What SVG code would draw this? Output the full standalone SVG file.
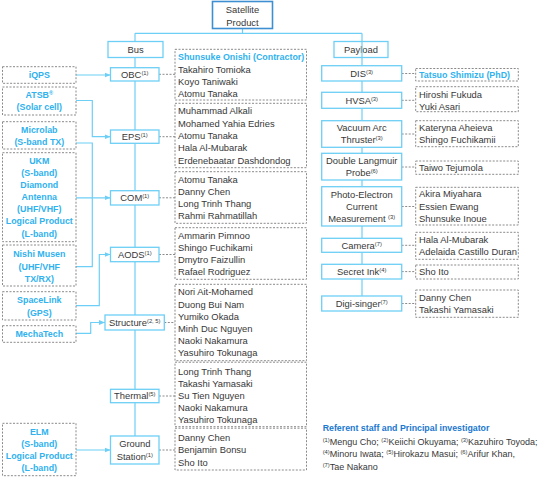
<svg xmlns="http://www.w3.org/2000/svg" width="549" height="480" viewBox="0 0 549 480">
<style>
text{font-family:"Liberation Sans",Arial,sans-serif;fill:#383838;font-size:9.4px}
.c{text-anchor:middle}
.co{fill:#2fb2ee;font-weight:bold;font-size:8.9px}
.sup{font-size:5.8px}
.nb{fill:#fff;stroke:#6dcff6;stroke-width:1.3}
.db{fill:none;stroke:#8a8a8a;stroke-width:1;stroke-dasharray:2,1.5}
.ln{fill:none;stroke:#6dcff6;stroke-width:1.2}
.dl{fill:none;stroke:#8a8a8a;stroke-width:1;stroke-dasharray:2,1.5}
.hd{fill:#1a78d0;font-weight:bold;font-size:8.8px}
.fn{font-size:9px}
</style>
<defs>
<marker id="arr" viewBox="0 0 10 10" refX="10" refY="5" markerWidth="6" markerHeight="6" markerUnits="userSpaceOnUse" orient="auto"><path d="M0,1 L10,5 L0,9 z" fill="#6dcff6"/></marker>
</defs>

<g id="payload"><rect class="nb" x="334" y="41.5" width="54" height="16"/><text class="c" x="361" y="52.8">Payload</text></g>

<g id="connectors">
<path class="ln" d="M242.5,28.5 V33.3 M135,33.3 H362 M135,33.3 V436 M362,33.3 V296"/>
<path class="ln" d="M76,75 H110.5" marker-end="url(#arr)"/>
<path class="ln" d="M76,100.5 H92.3 V136.7 H110.5" marker-end="url(#arr)"/>
<path class="ln" d="M76,143 H92.3 V266.7 H76"/>
<path class="ln" d="M76,197.8 H110.5" marker-end="url(#arr)"/>
<path class="ln" d="M76,305.7 H99.3 V254.5 H110.5" marker-end="url(#arr)"/>
<path class="ln" d="M76,333.3 H90.7 V322.5 H105" marker-end="url(#arr)"/>
<path class="ln" d="M76,450 H110.5" marker-end="url(#arr)"/>
<path class="dl" d="M159,74.3 H175 M159,136.7 H175 M159,197.8 H175 M159,254.5 H175 M164.3,322.5 H175 M159,396 H175 M159,450 H175"/>
<path class="dl" d="M401.7,73.5 H415.7 M401.7,100.3 H415.7 M401.7,134 H415.7 M401.7,167 H415.7 M401.7,206.5 H415.7 M401.7,245.3 H415.7 M401.7,271.6 H415.7 M401.7,303.5 H415.7"/>
</g>

<g id="satellite"><rect x="212.5" y="1.5" width="60" height="27" fill="#fff" stroke="#3d8fd1" stroke-width="1.6"/><text class="c" x="242.5" y="13.3">Satellite</text><text class="c" x="242.5" y="25.6">Product</text></g>
<g id="bus"><rect class="nb" x="108" y="41.5" width="55" height="16"/><text class="c" x="135.5" y="52.8">Bus</text></g>

<g id="obc"><rect class="nb" x="110.5" y="67.7" width="48.5" height="13.3"/><text class="c" x="134.8" y="77.6">OBC<tspan class="sup" dy="-3">(1)</tspan></text></g>
<g id="eps"><rect class="nb" x="110.5" y="130" width="48.5" height="13.3"/><text class="c" x="134.8" y="140">EPS<tspan class="sup" dy="-3">(1)</tspan></text></g>
<g id="com"><rect class="nb" x="110.5" y="190.7" width="48.5" height="14.3"/><text class="c" x="134.8" y="201.1">COM<tspan class="sup" dy="-3">(1)</tspan></text></g>
<g id="aods"><rect class="nb" x="110.5" y="247.3" width="48.5" height="14.4"/><text class="c" x="134.8" y="257.8">AODS<tspan class="sup" dy="-3">(1)</tspan></text></g>
<g id="structure"><rect class="nb" x="105" y="315" width="59.3" height="15"/><text class="c" x="134.7" y="325.8">Structure<tspan class="sup" dy="-3">(2, 5)</tspan></text></g>
<g id="thermal"><rect class="nb" x="110.5" y="389.3" width="48.5" height="13.4"/><text class="c" x="134.8" y="399.3">Thermal<tspan class="sup" dy="-3">(5)</tspan></text></g>
<g id="ground"><rect class="nb" x="110.5" y="436" width="48.5" height="28"/><text class="c" x="134.8" y="447.3">Ground</text><text class="c" x="134.8" y="459.5">Station<tspan class="sup" dy="-3">(1)</tspan></text></g>

<g id="iqps"><rect class="db" x="2.5" y="66.7" width="73.5" height="16.6"/><text class="c co" x="39.3" y="78.2">iQPS</text></g>
<g id="atsb"><rect class="db" x="2.5" y="87" width="73.5" height="28"/><text class="c co" x="39.3" y="98.2">ATSB<tspan font-size="5.5px" dy="-3">®</tspan></text><text class="c co" x="39.3" y="110.3">(Solar cell)</text></g>
<g id="microlab"><rect class="db" x="2.5" y="121.7" width="73.5" height="27.3"/><text class="c co" x="39.3" y="132.7">Microlab</text><text class="c co" x="39.3" y="145.2">(S-band TX)</text></g>
<g id="ukm"><rect class="db" x="2.5" y="152.7" width="73.5" height="89"/>
<text class="c co" x="39.3" y="163.9">UKM</text><text class="c co" x="39.3" y="176">(S-band)</text><text class="c co" x="39.3" y="188.1">Diamond</text><text class="c co" x="39.3" y="200.2">Antenna</text><text class="c co" x="39.3" y="212.3">(UHF/VHF)</text><text class="c co" x="39.3" y="224.4">Logical Product</text><text class="c co" x="39.3" y="236.5">(L-band)</text></g>
<g id="nishi"><rect class="db" x="2.5" y="245" width="73.5" height="41"/><text class="c co" x="39.3" y="257.2">Nishi Musen</text><text class="c co" x="39.3" y="269.5">(UHF/VHF</text><text class="c co" x="39.3" y="281.8">TX/RX)</text></g>
<g id="spacelink"><rect class="db" x="2.5" y="291.7" width="73.5" height="28.3"/><text class="c co" x="39.3" y="303.2">SpaceLink</text><text class="c co" x="39.3" y="315.5">(GPS)</text></g>
<g id="mechatech"><rect class="db" x="2.5" y="325.7" width="73.5" height="16.6"/><text class="c co" x="39.3" y="337.2">MechaTech</text></g>
<g id="elm"><rect class="db" x="2.5" y="423.3" width="73.5" height="52.4"/><text class="c co" x="39.3" y="434.6">ELM</text><text class="c co" x="39.3" y="446.8">(S-band)</text><text class="c co" x="39.3" y="459">Logical Product</text><text class="c co" x="39.3" y="471.2">(L-band)</text></g>

<g id="obc-team"><rect class="db" x="175" y="49.3" width="131.5" height="50.7"/><text class="co" x="178" y="60.2">Shunsuke Onishi (Contractor)</text><text x="178" y="72.5">Takahiro Tomioka</text><text x="178" y="84.6">Koyo Taniwaki</text><text x="178" y="96.6">Atomu Tanaka</text></g>
<g id="eps-team"><rect class="db" x="175" y="103.3" width="131.5" height="64.4"/><text x="178" y="114.1">Muhammad Alkali</text><text x="178" y="126.6">Mohamed Yahia Edries</text><text x="178" y="139">Atomu Tanaka</text><text x="178" y="151.3">Hala Al-Mubarak</text><text x="178" y="163.7">Erdenebaatar Dashdondog</text></g>
<g id="com-team"><rect class="db" x="175" y="171.7" width="131.5" height="51.6"/><text x="178" y="182.6">Atomu Tanaka</text><text x="178" y="195">Danny Chen</text><text x="178" y="207">Long Trinh Thang</text><text x="178" y="219">Rahmi Rahmatillah</text></g>
<g id="aods-team"><rect class="db" x="175" y="227.7" width="131.5" height="51.6"/><text x="178" y="239">Ammarin Pimnoo</text><text x="178" y="251.3">Shingo Fuchikami</text><text x="178" y="263.3">Dmytro Faizullin</text><text x="178" y="275.3">Rafael Rodriguez</text></g>
<g id="structure-team"><rect class="db" x="175" y="284.3" width="131.5" height="76.4"/><text x="178" y="295">Nori Ait-Mohamed</text><text x="178" y="307.6">Duong Bui Nam</text><text x="178" y="319.6">Yumiko Okada</text><text x="178" y="331.6">Minh Duc Nguyen</text><text x="178" y="344">Naoki Nakamura</text><text x="178" y="356">Yasuhiro Tokunaga</text></g>
<g id="thermal-team"><rect class="db" x="175" y="362.2" width="131.5" height="64.5"/><text x="178" y="375">Long Trinh Thang</text><text x="178" y="387">Takashi Yamasaki</text><text x="178" y="399.3">Su Tien Nguyen</text><text x="178" y="411.3">Naoki Nakamura</text><text x="178" y="423.3">Yasuhiro Tokunaga</text></g>
<g id="ground-team"><rect class="db" x="175" y="428.2" width="131.5" height="41.8"/><text x="178" y="441">Danny Chen</text><text x="178" y="453.3">Benjamin Bonsu</text><text x="178" y="466">Sho Ito</text></g>

<g id="dis"><rect class="nb" x="321.7" y="65.7" width="80" height="15.3"/><text class="c" x="361.7" y="76.8">DIS<tspan class="sup" dy="-3">(3)</tspan></text></g>
<g id="hvsa"><rect class="nb" x="321.7" y="92.3" width="80" height="16"/><text class="c" x="361.7" y="103.6">HVSA<tspan class="sup" dy="-3">(3)</tspan></text></g>
<g id="vat"><rect class="nb" x="321.7" y="120.7" width="80" height="26.6"/><text class="c" x="361.7" y="131.3">Vacuum Arc</text><text class="c" x="361.7" y="143.3">Thruster<tspan class="sup" dy="-3">(3)</tspan></text></g>
<g id="dlp"><rect class="nb" x="321.7" y="153.3" width="80" height="26.7"/><text class="c" x="361.7" y="164.3">Double Langmuir</text><text class="c" x="361.7" y="176.3">Probe<tspan class="sup" dy="-3">(6)</tspan></text></g>
<g id="pecm"><rect class="nb" x="321.7" y="186.7" width="80" height="39.3"/><text class="c" x="361.7" y="197.6">Photo-Electron</text><text class="c" x="361.7" y="209.9">Current</text><text class="c" x="361.7" y="222.3">Measurement <tspan class="sup" dy="-3">(3)</tspan></text></g>
<g id="camera"><rect class="nb" x="321.7" y="238.3" width="80" height="14"/><text class="c" x="361.7" y="248.6">Camera<tspan class="sup" dy="-3">(7)</tspan></text></g>
<g id="secretink"><rect class="nb" x="321.7" y="264.3" width="80" height="14.7"/><text class="c" x="361.7" y="274.9">Secret Ink<tspan class="sup" dy="-3">(4)</tspan></text></g>
<g id="digisinger"><rect class="nb" x="321.7" y="296" width="80" height="15"/><text class="c" x="361.7" y="306.8">Digi-singer<tspan class="sup" dy="-3">(7)</tspan></text></g>

<g id="dis-team"><rect class="db" x="415.7" y="68.5" width="102.6" height="12.5"/><text class="co" x="419" y="77.8">Tatsuo Shimizu (PhD)</text></g>
<g id="hvsa-team"><rect class="db" x="415.7" y="86.7" width="102.6" height="25"/><text x="419" y="98">Hiroshi Fukuda</text><text x="419" y="110.3">Yuki Asari</text></g>
<g id="vat-team"><rect class="db" x="415.7" y="120.7" width="102.6" height="26"/><text x="419" y="131.3">Kateryna Aheieva</text><text x="419" y="143.3">Shingo Fuchikamii</text></g>
<g id="dlp-team"><rect class="db" x="415.7" y="161" width="102.6" height="13.3"/><text x="419" y="170.9">Taiwo Tejumola</text></g>
<g id="pecm-team"><rect class="db" x="415.7" y="187.3" width="102.6" height="37.7"/><text x="419" y="197.3">Akira Miyahara</text><text x="419" y="210">Essien Ewang</text><text x="419" y="222.3">Shunsuke Inoue</text></g>
<g id="camera-team"><rect class="db" x="415.7" y="232.3" width="102.6" height="27"/><text x="419" y="243">Hala Al-Mubarak</text><text x="419" y="255.3">Adelaida Castillo Duran</text></g>
<g id="secretink-team"><rect class="db" x="415.7" y="265" width="102.6" height="14"/><text x="419" y="275.3">Sho Ito</text></g>
<g id="digisinger-team"><rect class="db" x="415.7" y="290" width="102.6" height="27.3"/><text x="419" y="301.3">Danny Chen</text><text x="419" y="313.3">Takashi Yamasaki</text></g>

<g id="referent">
<text class="hd" x="322.7" y="431">Referent staff and Principal investigator</text>
<text class="fn" x="322.7" y="445"><tspan class="sup" baseline-shift="3">(1)</tspan>Mengu Cho; <tspan class="sup" baseline-shift="3">(2)</tspan>Keiichi Okuyama; <tspan class="sup" baseline-shift="3">(3)</tspan>Kazuhiro Toyoda;</text>
<text class="fn" x="322.7" y="457.3"><tspan class="sup" baseline-shift="3">(4)</tspan>Minoru Iwata; <tspan class="sup" baseline-shift="3">(5)</tspan>Hirokazu Masui; <tspan class="sup" baseline-shift="3">(6)</tspan>Arifur Khan,</text>
<text class="fn" x="322.7" y="469.6"><tspan class="sup" baseline-shift="3">(7)</tspan>Tae Nakano</text>
</g>
</svg>
